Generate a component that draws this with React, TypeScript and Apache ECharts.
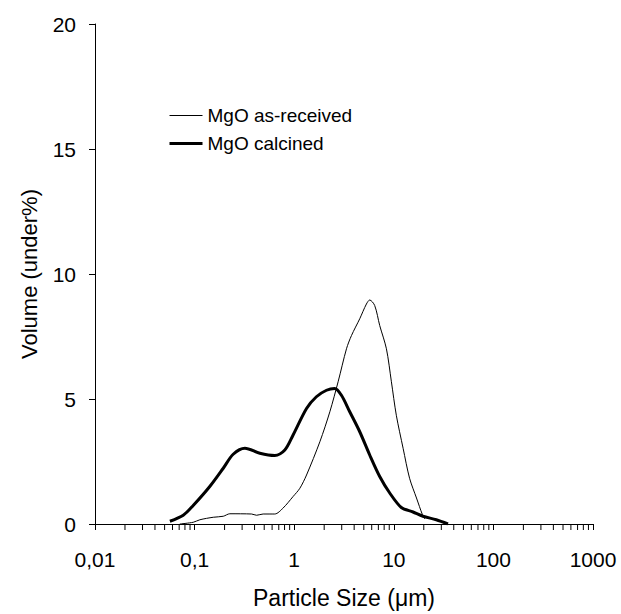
import React, { useEffect, useRef } from "react";
import * as echarts from "echarts";

const xTickLabels = ["0,01", "0,1", "1", "10", "100", "1000"];
const yTicks = [0, 5, 10, 15, 20];

const asReceivedSize = [0.071, 0.097, 0.113, 0.154, 0.194, 0.226, 0.373, 0.419, 0.488, 0.638, 0.774, 0.975, 1.14, 1.33, 1.81, 2.28, 2.76, 3.35, 3.76, 4.55, 5.31, 5.73, 6.43, 7.22, 8.43, 9.46, 10.6, 12.4, 14.4, 16.9, 19.4, 20.5];
const asReceivedVol = [0, 0.07, 0.17, 0.27, 0.31, 0.41, 0.4, 0.35, 0.4, 0.4, 0.64, 1.1, 1.43, 1.96, 3.29, 4.49, 5.69, 7.01, 7.54, 8.21, 8.8, 8.96, 8.74, 7.94, 7.01, 5.69, 4.35, 3.03, 1.83, 1.04, 0.37, 0.2];

const calcinedSize = [0.0565, 0.0769, 0.0968, 0.142, 0.194, 0.244, 0.32, 0.452, 0.638, 0.805, 0.975, 1.33, 1.67, 2.11, 2.55, 2.98, 3.61, 4.55, 5.73, 7.22, 9.1, 11.9, 15.6, 19.6, 26.7, 35];
const calcinedVol = [0.11, 0.35, 0.74, 1.5, 2.23, 2.79, 3.03, 2.83, 2.74, 2.96, 3.56, 4.62, 5.09, 5.35, 5.42, 5.15, 4.49, 3.69, 2.76, 1.9, 1.24, 0.66, 0.48, 0.31, 0.17, 0];

const minorMultipliers = [2, 3, 4, 5, 6, 7, 8, 9];
const decades = [0.01, 0.1, 1, 10, 100];

const FONT = "'Liberation Sans', Arial, sans-serif";

export default function App() {
  const ref = useRef<HTMLDivElement>(null);
  useEffect(() => {
    if (!ref.current) return;
    const chart = echarts.init(ref.current, null, { renderer: "svg" });
    const minorTicks: number[][] = [];
    decades.forEach((d) => minorMultipliers.forEach((m) => minorTicks.push([d * m, 0])));
    chart.setOption({
      animation: false,
      backgroundColor: "#fff",
      textStyle: { fontFamily: FONT, color: "#000" },
      grid: { left: 95, right: 28, top: 24, bottom: 88 },
      legend: {
        left: 168,
        top: 106,
        orient: "vertical",
        itemWidth: 33,
        itemHeight: 14,
        itemGap: 9,
        padding: 0,
        data: [
          { name: "MgO as-received", lineStyle: { width: 1, color: "#000" } },
          { name: "MgO calcined", lineStyle: { width: 3, color: "#000" } },
        ],
        itemStyle: { opacity: 0, color: "transparent", borderWidth: 0 },
        textStyle: { fontSize: 19, color: "#000", fontFamily: FONT },
      },
      xAxis: {
        type: "log",
        logBase: 10,
        min: 0.01,
        max: 1000,
        name: "Particle Size (\u03bcm)",
        nameLocation: "middle",
        nameGap: 62,
        nameTextStyle: { fontSize: 23, color: "#000", fontFamily: FONT },
        axisLine: { lineStyle: { color: "#000", width: 1 } },
        axisTick: { show: true, inside: false, length: 6, lineStyle: { color: "#000" } },
        axisLabel: {
          fontSize: 21,
          color: "#000",
          margin: 25,
          fontFamily: FONT,
          formatter: (v: number) => xTickLabels[Math.round(Math.log10(v)) + 2] ?? "",
        },
        splitLine: { show: false },
      },
      yAxis: {
        type: "value",
        min: yTicks[0],
        max: yTicks[yTicks.length - 1],
        interval: 5,
        name: "Volume (under%)",
        nameLocation: "middle",
        nameGap: 55,
        nameTextStyle: { fontSize: 22, color: "#000", fontFamily: FONT },
        axisLine: { show: true, lineStyle: { color: "#000", width: 1 } },
        axisTick: { show: true, inside: false, length: 6, lineStyle: { color: "#000" } },
        axisLabel: { fontSize: 21, color: "#000", margin: 19, fontFamily: FONT },
        splitLine: { show: false },
      },
      series: [
        {
          name: "MgO as-received",
          type: "line",
          data: asReceivedSize.map((x, i) => [x, asReceivedVol[i]]),
          showSymbol: false,
          symbol: "none",
          smooth: 0.3,
          lineStyle: { color: "#000", width: 1 },
          itemStyle: { color: "#000" },
        },
        {
          name: "MgO calcined",
          type: "line",
          data: calcinedSize.map((x, i) => [x, calcinedVol[i]]),
          showSymbol: false,
          symbol: "none",
          smooth: 0.3,
          lineStyle: { color: "#000", width: 3 },
          itemStyle: { color: "#000" },
        },
        {
          name: "minorTicks",
          type: "custom",
          silent: true,
          clip: false,
          data: minorTicks,
          renderItem: (params: any, api: any) => {
            const p = api.coord([api.value(0), 0]);
            return {
              type: "line",
              shape: { x1: p[0], y1: p[1], x2: p[0], y2: p[1] + 6 },
              style: { stroke: "#000", lineWidth: 1 },
            };
          },
        },
      ],
    });
    return () => chart.dispose();
  }, []);
  return <div ref={ref} style={{ width: 621, height: 614, position: "absolute", left: 0, top: 0 }} />;
}
